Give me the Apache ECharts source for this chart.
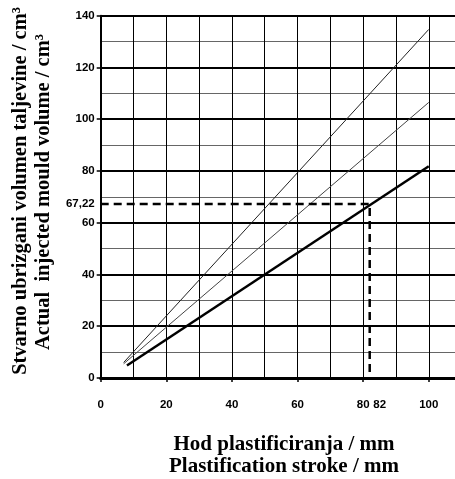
<!DOCTYPE html>
<html>
<head>
<meta charset="utf-8">
<script src="https://cdn.jsdelivr.net/npm/echarts@6/dist/echarts.min.js"></script>
<style>
html,body{margin:0;padding:0;background:#fff;}
#chart{width:455px;height:479px;}
</style>
</head>
<body>
<div id="chart"></div>
<script>
// ---- data ----
var lineTop = [[7, 6.0], [100, 134.7]];
var lineMid = [[7, 5.5], [100, 106.5]];
var lineLow = [[8, 4.8], [100, 81.8]];
var dashedGuide = [[0, 67.22], [82, 67.22], [82, 0]];
var xLabelValues = [0, 20, 40, 60, 80, 82, 100];
var xTickValues = [0, 20, 40, 60, 80, 100];
var yLabelValues = [0, 20, 40, 60, 67.22, 80, 100, 120, 140];
var yTickValues = [0, 20, 40, 60, 80, 100, 120, 140];
var xTitle = ['Hod plastificiranja / mm', 'Plastification stroke / mm'];
var yTitle = ['Stvarno ubrizgani volumen taljevine / cm\u00B3', 'Actual  injected mould volume / cm\u00B3'];

var numFamily = "'Liberation Sans Narrow', 'Arial Narrow', 'Liberation Sans', Arial, sans-serif";
var numFont = {fontFamily: numFamily, fontWeight: 'bold', fontSize: 11.5, color: '#000'};
var serif = "'Liberation Serif', 'Times New Roman', serif";

var chart = echarts.init(document.getElementById('chart'), null, {renderer: 'canvas'});
chart.setOption({
  animation: false,
  backgroundColor: '#fff',
  grid: {left: 100.7, top: 15.7, bottom: 101, right: 0, containLabel: false},
  xAxis: [{
    type: 'value', min: 0, max: 108, interval: 10,
    axisLine: {show: true, onZero: false, lineStyle: {color: '#000', width: 3}},
    axisTick: {show: false},
    axisLabel: Object.assign({
      customValues: xLabelValues, margin: 21,
      formatter: function (v) { return v === 82 ? '{s|82}' : String(v); },
      rich: {s: {fontFamily: numFamily, fontWeight: 'bold', fontSize: 11.5, color: '#000', padding: [0, 0, 0, 20]}}
    }, numFont),
    splitLine: {show: true, showMaxLine: false, lineStyle: {color: '#000', width: 1}}
  }, {
    type: 'value', min: 0, max: 108, position: 'bottom',
    axisLine: {show: false, onZero: false},
    axisTick: {show: true, customValues: xTickValues, length: 4, lineStyle: {color: '#000', width: 1.5}},
    axisLabel: {show: false},
    splitLine: {show: false}
  }],
  yAxis: {
    type: 'value', min: 0, max: 140, interval: 20,
    axisLine: {show: true, onZero: false, lineStyle: {color: '#000', width: 2}},
    axisTick: {show: true, customValues: yTickValues, length: 4, lineStyle: {color: '#000', width: 1.5}},
    axisLabel: Object.assign({
      customValues: yLabelValues, margin: 6,
      formatter: function (v) { return Math.abs(v - 67.22) < 1e-6 ? '67,22' : String(v); }
    }, numFont),
    splitLine: {show: true, lineStyle: {color: '#000', width: 2}},
    minorTick: {show: false, splitNumber: 2},
    minorSplitLine: {show: true, lineStyle: {color: '#666', width: 1}}
  },
  series: [
    {type: 'line', data: lineTop, symbol: 'none', lineStyle: {color: '#222', width: 1}},
    {type: 'line', data: lineMid, symbol: 'none', lineStyle: {color: '#444', width: 1}},
    {type: 'line', data: lineLow, symbol: 'none', lineStyle: {color: '#000', width: 2.5}},
    {type: 'line', data: dashedGuide, symbol: 'none', lineStyle: {color: '#000', width: 2.5, type: [8, 5]}}
  ],
  graphic: [
    {type: 'text', x: 284, y: 445, style: {text: xTitle[0], font: 'bold 21px ' + serif, fill: '#000', textAlign: 'center', textVerticalAlign: 'middle'}},
    {type: 'text', x: 284, y: 467, style: {text: xTitle[1], font: 'bold 21px ' + serif, fill: '#000', textAlign: 'center', textVerticalAlign: 'middle'}},
    {type: 'text', x: 21, y: 191, rotation: Math.PI / 2, style: {text: yTitle[0], font: 'bold 20.5px ' + serif, fill: '#000', textAlign: 'center', textVerticalAlign: 'middle'}},
    {type: 'text', x: 44, y: 192, rotation: Math.PI / 2, style: {text: yTitle[1], font: 'bold 20.5px ' + serif, fill: '#000', textAlign: 'center', textVerticalAlign: 'middle'}}
  ]
});
</script>
</body>
</html>
